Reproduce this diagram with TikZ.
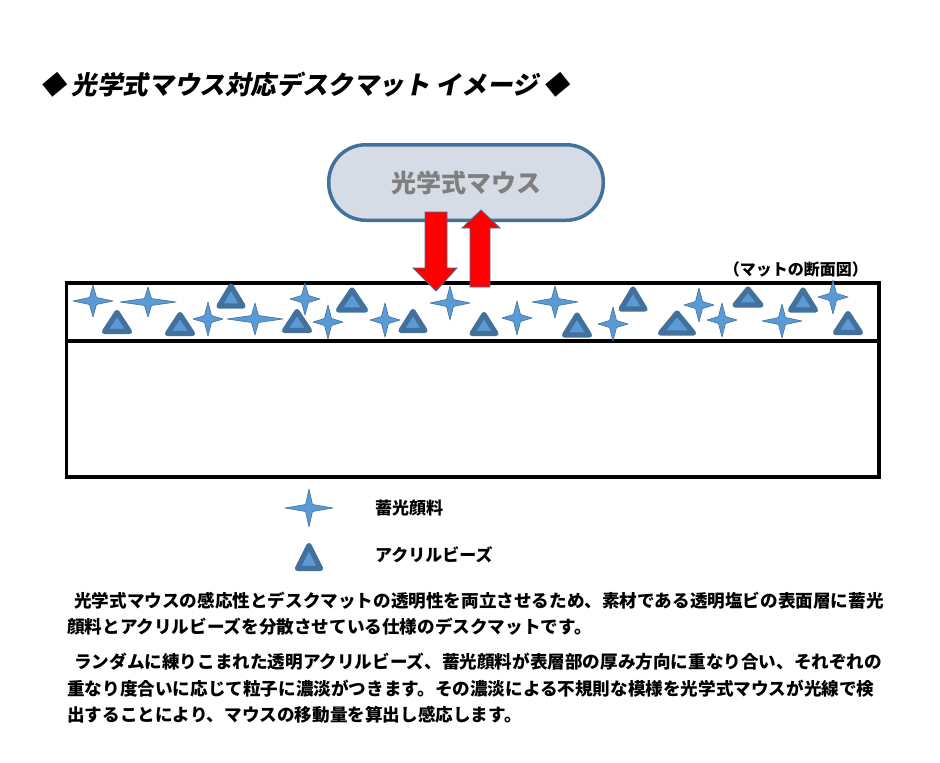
\documentclass[tikz,border=0pt]{standalone}
\usepackage{fontspec}
\setmainfont{Noto Sans CJK JP}
\newfontfamily\titlefont{Noto Sans CJK JP}[FakeSlant=0.2]
\definecolor{pillfill}{RGB}{214,220,229}
\definecolor{pillline}{RGB}{65,113,156}
\definecolor{beadline}{RGB}{65,113,156}
\definecolor{beadfill}{RGB}{91,155,213}
\definecolor{mousegray}{RGB}{127,127,127}
\tikzset{
  sparkle/.style={fill=beadfill, draw=beadline, line width=0.6pt, line join=round},
  bead/.style={fill=beadfill, draw=beadline, line width=5.2pt, line join=round},
  redarrow/.style={fill=red, draw=pillline, line width=0.8pt},
  matline/.style={line width=3.6pt, draw=black},
  pill/.style={draw=pillline, fill=pillfill, line width=3.5pt, rounded corners=37pt,
    minimum width=274.5pt, minimum height=75.5pt, text=mousegray, inner sep=0pt,
    font=\bfseries\fontsize{25}{30}\selectfont},
  bodytext/.style={font=\bfseries\fontsize{17.6}{21}\selectfont, anchor=west, inner sep=0pt},
  legendtext/.style={font=\bfseries\fontsize{17}{20}\selectfont, anchor=west, inner sep=0pt},
}
\newcommand\mysparkle[4]{%
  \path[sparkle] ({#1+#3},#2) -- ({#1+3.5},{#2-3.5}) -- (#1,{#2-#4}) -- ({#1-3.5},{#2-3.5})
    -- ({#1-#3},#2) -- ({#1-3.5},{#2+3.5}) -- (#1,{#2+#4}) -- ({#1+3.5},{#2+3.5}) -- cycle;}
\newcommand\mybead[4]{%
  \path[bead] ({#1-#3},{#2+#4}) -- ({#1+#3},{#2+#4}) -- (#1,{#2-#4}) -- cycle;}
\begin{document}
\begin{tikzpicture}[x=1pt,y=-1pt]
\fill[white] (0,0) rectangle (940,763);
\useasboundingbox (0,0) rectangle (940,763);

% title
\node[anchor=west, inner sep=0pt, font=\titlefont\bfseries\fontsize{25.6}{30}\selectfont] (title) at (40,85)
  {◆ 光学式マウス対応デスクマット イメージ ◆};

% mouse
\node[pill] (mouse) at (466,182.5) {光学式マウス};

% mat label
\node[anchor=east, inner sep=0pt, font=\bfseries\fontsize{16}{19}\selectfont] (matlabel) at (868,269)
  {（マットの断面図）};

% mat
\draw[matline] (66.5,283) rectangle (879,477);
\draw[matline] (66.5,341) -- (879,341);

% sparkles (pigment)
\mysparkle{93}{301}{20}{16}
\mysparkle{148}{302}{28}{15}
\mysparkle{208}{319}{15}{17}
\mysparkle{255}{319}{28}{16}
\mysparkle{305}{299}{15}{16}
\mysparkle{328}{322}{15}{17}
\mysparkle{385}{320}{15}{17}
\mysparkle{450}{303}{20}{17}
\mysparkle{517}{318}{15}{17}
\mysparkle{555}{302}{23}{16}
\mysparkle{613}{324}{15}{17}
\mysparkle{699}{305}{15}{17}
\mysparkle{722}{320}{15}{17}
\mysparkle{782}{321}{20}{17}
\mysparkle{833}{297}{15}{17}

% beads
\mybead{117}{322}{12.5}{9.5}
\mybead{180}{324}{12.5}{9.5}
\mybead{231}{296}{12}{10}
\mybead{297}{321}{12.5}{9.5}
\mybead{352}{300}{13.5}{10}
\mybead{413}{321}{12}{9.5}
\mybead{484}{324}{12}{9.5}
\mybead{577}{325}{12.5}{10}
\mybead{633}{299}{12}{10}
\mybead{677}{323}{16.5}{10}
\mybead{748}{297}{13}{8}
\mybead{803}{300}{12.5}{10}
\mybead{848}{323}{12.5}{9.5}

% arrows
\path[redarrow] (425,212) -- (447,212) -- (447,268) -- (457,268) -- (436,291) -- (413,268) -- (425,268) -- cycle;
\path[redarrow] (470,287) -- (490,287) -- (490,228) -- (500,228) -- (481,210) -- (462,228) -- (470,228) -- cycle;

% legend
\mysparkle{309}{508}{24}{19}
\mybead{309}{557}{11.5}{11.5}
\node[legendtext] (leg1) at (375,508) {蓄光顔料};
\node[legendtext] (leg2) at (375,555) {アクリルビーズ};

% body
\node[bodytext] (b1) at (70,601) {\ 光学式マウスの感応性とデスクマットの透明性を両立させるため、素材である透明塩ビの表面層に蓄光};
\node[bodytext] (b2) at (67,627) {顔料とアクリルビーズを分散させている仕様のデスクマットです。};
\node[bodytext] (b3) at (70,662) {\ ランダムに練りこまれた透明アクリルビーズ、蓄光顔料が表層部の厚み方向に重なり合い、それぞれの};
\node[bodytext] (b4) at (67,689) {重なり度合いに応じて粒子に濃淡がつきます。その濃淡による不規則な模様を光学式マウスが光線で検};
\node[bodytext] (b5) at (67,715) {出することにより、マウスの移動量を算出し感応します。};
\end{tikzpicture}
\end{document}
